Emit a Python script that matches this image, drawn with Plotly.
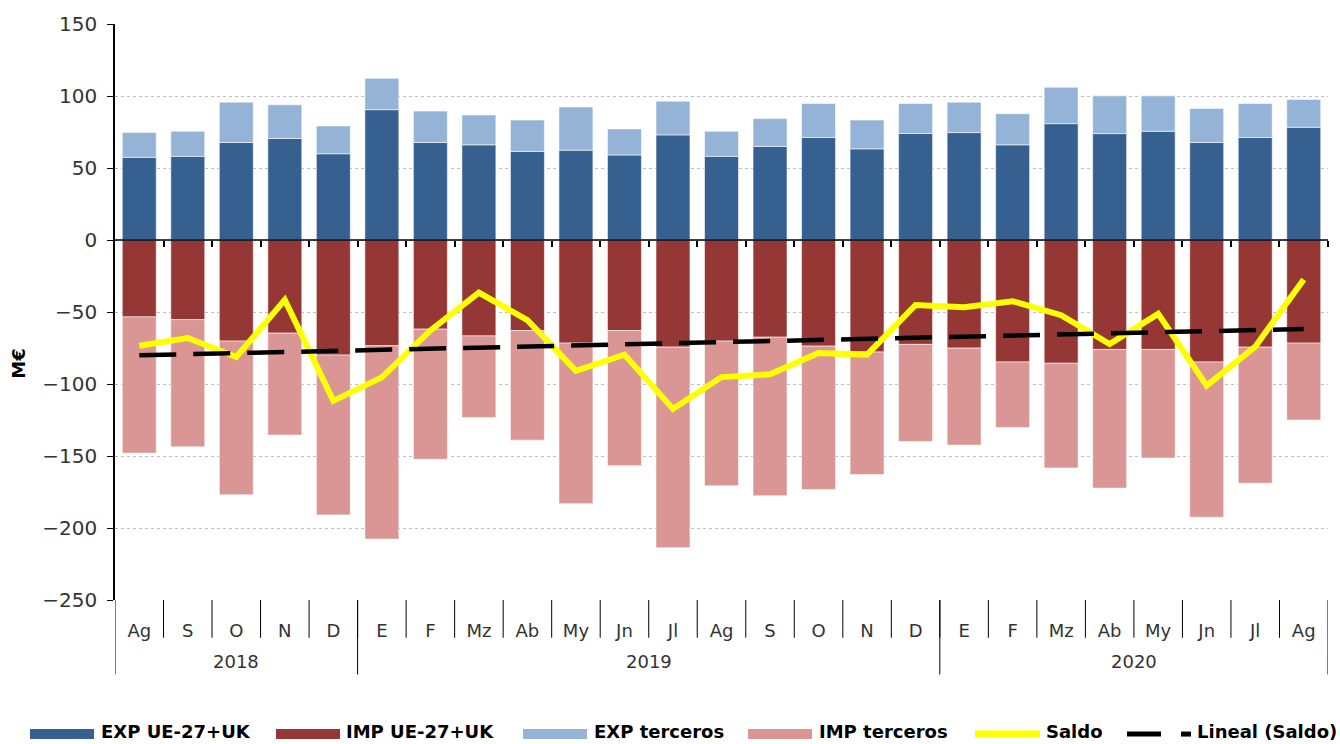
import numpy as np
import plotly.graph_objects as go

# Monthly trade, million euros (Aug 2018 - Aug 2020)
months = ["Ag", "S", "O", "N", "D",
          "E", "F", "Mz", "Ab", "My", "Jn", "Jl", "Ag", "S", "O", "N", "D",
          "E", "F", "Mz", "Ab", "My", "Jn", "Jl", "Ag"]
year_labels = ["2018", "2019", "2020"]
year_month_counts = [5, 12, 8]

exp_ue = [57.4, 58.1, 67.7, 70.5, 59.9,
          90.5, 67.7, 66.1, 61.5, 62.4, 59.0, 73.0, 58.1, 65.0, 71.2, 63.3, 74.0,
          74.6, 66.1, 80.8, 73.9, 75.5, 67.7, 71.2, 78.3]
exp_terceros = [17.2, 17.4, 28.0, 23.4, 19.3,
                21.8, 21.8, 20.7, 21.8, 29.9, 18.1, 23.4, 17.4, 19.3, 23.6, 20.0, 20.8,
                21.1, 21.6, 25.3, 26.2, 24.6, 23.7, 23.6, 19.3]
imp_ue = [-53.4, -55.3, -70.2, -64.7, -79.9,
          -73.4, -61.9, -66.6, -62.9, -71.6, -62.9, -74.4, -70.2, -67.5, -73.7, -77.8, -72.5,
          -75.1, -84.7, -85.6, -76.0, -76.0, -84.7, -74.4, -71.6]
imp_terceros = [-94.6, -88.3, -106.7, -70.8, -111.0,
                -134.3, -90.4, -56.7, -76.1, -111.5, -93.8, -139.3, -100.5, -110.1, -99.5, -85.1, -67.4,
                -67.3, -45.5, -72.7, -96.3, -75.4, -107.8, -94.5, -53.4]
saldo = [-73.4, -68.1, -81.2, -41.6, -111.7,
         -95.4, -62.8, -36.5, -55.7, -90.8, -79.6, -117.3, -95.2, -93.3, -78.4, -79.6, -45.1,
         -46.7, -42.5, -52.2, -72.2, -51.3, -101.1, -74.1, -27.4]

y_ticks = [150, 100, 50, 0, -50, -100, -150, -200, -250]

C_EXP_UE = "#36608F"
C_IMP_UE = "#953735"
C_EXP_T = "#95B3D7"
C_IMP_T = "#D99694"
C_SALDO = "#FFFF00"

FONT = "DejaVu Sans"

# month positions on the category axis
pos = list(range(len(months)))
n = len(months)

# Linear trend of the balance
slope, intercept = np.polyfit(pos, saldo, 1)
trend = [slope * i + intercept for i in pos]

edge = dict(color="rgba(255,255,255,0.55)", width=1)

fig = go.Figure()
fig.add_bar(x=pos, y=exp_ue, name="EXP UE-27+UK", marker=dict(color=C_EXP_UE, line=edge))
fig.add_bar(x=pos, y=imp_ue, name="IMP UE-27+UK", marker=dict(color=C_IMP_UE, line=edge))
fig.add_bar(x=pos, y=exp_terceros, name="EXP terceros", marker=dict(color=C_EXP_T, line=edge))
fig.add_bar(x=pos, y=imp_terceros, name="IMP terceros", marker=dict(color=C_IMP_T, line=edge))
fig.add_scatter(x=pos, y=saldo, name="Saldo", mode="lines",
                line=dict(color=C_SALDO, width=6))
fig.add_scatter(x=pos, y=trend, name="Lineal (Saldo)", mode="lines",
                line=dict(color="black", width=4.5, dash="37px,17px"))
# helper trace carrying the overlay axis that puts ticks on the zero line
fig.add_scatter(x=[0], y=[0], xaxis="x2", mode="markers", marker=dict(opacity=0),
                hoverinfo="skip", showlegend=False)

L, R, T, B = 115, 12, 20, 144
W, H = 1340, 744
PW, PH = W - L - R, H - T - B


def px_x(p):
    return (p - L) / PW


def px_y(p):
    return (H - B - p) / PH


shapes = []
annotations = []

# zero line on top of the bars
shapes.append(dict(type="line", xref="x", yref="y", x0=-0.5, x1=n - 0.5, y0=0, y1=0,
                   line=dict(color="black", width=1.5), layer="above"))
# month separators below the plot area
for b in np.arange(0.5, n - 1, 1.0):
    shapes.append(dict(type="line", xref="x", yref="paper", x0=b, x1=b,
                       y0=px_y(600), y1=px_y(638), line=dict(color="black", width=1)))
# year dividers and year labels
start = 0
bounds = [-0.5]
for label, cnt in zip(year_labels, year_month_counts):
    annotations.append(dict(text=label, xref="x", yref="paper",
                            x=start + (cnt - 1) / 2, y=px_y(662),
                            xanchor="center", yanchor="middle", showarrow=False,
                            font=dict(family=FONT, size=18, color="#333333")))
    start += cnt
    bounds.append(start - 0.5)
for b in bounds:
    shapes.append(dict(type="line", xref="x", yref="paper", x0=b, x1=b,
                       y0=px_y(600), y1=px_y(675), line=dict(color="black", width=1)))

# legend
legend_items = [
    ("EXP UE-27+UK", C_EXP_UE, "rect", 30, 94, 100),
    ("IMP UE-27+UK", C_IMP_UE, "rect", 276, 340, 345),
    ("EXP terceros", C_EXP_T, "rect", 523, 587, 593),
    ("IMP terceros", C_IMP_T, "rect", 748, 812, 818),
    ("Saldo", C_SALDO, "line", 975, 1040, 1045),
    ("Lineal (Saldo)", "black", "dash", 1125, 1192, 1196),
]
ly = 735
for label, col, kind, x0, x1, tx in legend_items:
    if kind == "rect":
        shapes.append(dict(type="rect", xref="paper", yref="paper",
                           x0=px_x(x0), x1=px_x(x1), y0=px_y(ly - 5), y1=px_y(ly + 5),
                           fillcolor=col, line=dict(width=0)))
    elif kind == "line":
        shapes.append(dict(type="line", xref="paper", yref="paper",
                           x0=px_x(x0), x1=px_x(x1), y0=px_y(ly), y1=px_y(ly),
                           line=dict(color=col, width=7)))
    else:
        shapes.append(dict(type="line", xref="paper", yref="paper",
                           x0=px_x(1127), x1=px_x(1161), y0=px_y(ly), y1=px_y(ly),
                           line=dict(color=col, width=5)))
        shapes.append(dict(type="line", xref="paper", yref="paper",
                           x0=px_x(1181), x1=px_x(1191), y0=px_y(ly), y1=px_y(ly),
                           line=dict(color=col, width=5)))
    annotations.append(dict(text=f"<b>{label}</b>", xref="paper", yref="paper",
                            x=px_x(tx), y=px_y(744), xanchor="left", yanchor="bottom",
                            borderpad=0, showarrow=False,
                            font=dict(family=FONT, size=18, color="black")))

# y axis title
annotations.append(dict(text="<b>M€</b>", xref="paper", yref="paper",
                        x=px_x(19), y=px_y(362), xanchor="center", yanchor="middle",
                        textangle=-90, showarrow=False,
                        font=dict(family=FONT, size=18, color="black")))

fig.update_layout(
    width=W, height=H,
    margin=dict(l=L, r=R, t=T, b=B, pad=0),
    paper_bgcolor="white", plot_bgcolor="white",
    barmode="relative", bargap=0.3,
    showlegend=False,
    font=dict(family=FONT, color="#333333"),
    shapes=shapes, annotations=annotations,
    xaxis=dict(
        range=[-0.5, n - 0.5],
        tickmode="array", tickvals=pos, ticktext=months,
        showline=False, showgrid=False, zeroline=False,
        ticks="outside", ticklen=14, tickcolor="rgba(0,0,0,0)",
        tickfont=dict(family=FONT, size=18, color="#333333"),
    ),
    xaxis2=dict(
        overlaying="x", anchor="free", position=px_y(237.5),
        range=[-0.5, n - 0.5], showgrid=False, zeroline=False, showline=False,
        tickmode="array", tickvals=list(np.arange(0.5, n, 1.0)),
        ticks="outside", ticklen=6, tickwidth=1.5, tickcolor="black",
        showticklabels=False,
    ),
    yaxis=dict(
        range=[-250, 150], tickmode="array", tickvals=y_ticks,
        showline=True, linecolor="black", linewidth=1.5,
        ticks="outside", ticklen=6, tickcolor="black",
        ticklabelstandoff=6,
        showgrid=True, gridcolor="#BFBFBF", griddash="dot", gridwidth=1,
        zeroline=False,
        tickfont=dict(family=FONT, size=20, color="#333333"),
    ),
)

fig.write_html("out.html")
